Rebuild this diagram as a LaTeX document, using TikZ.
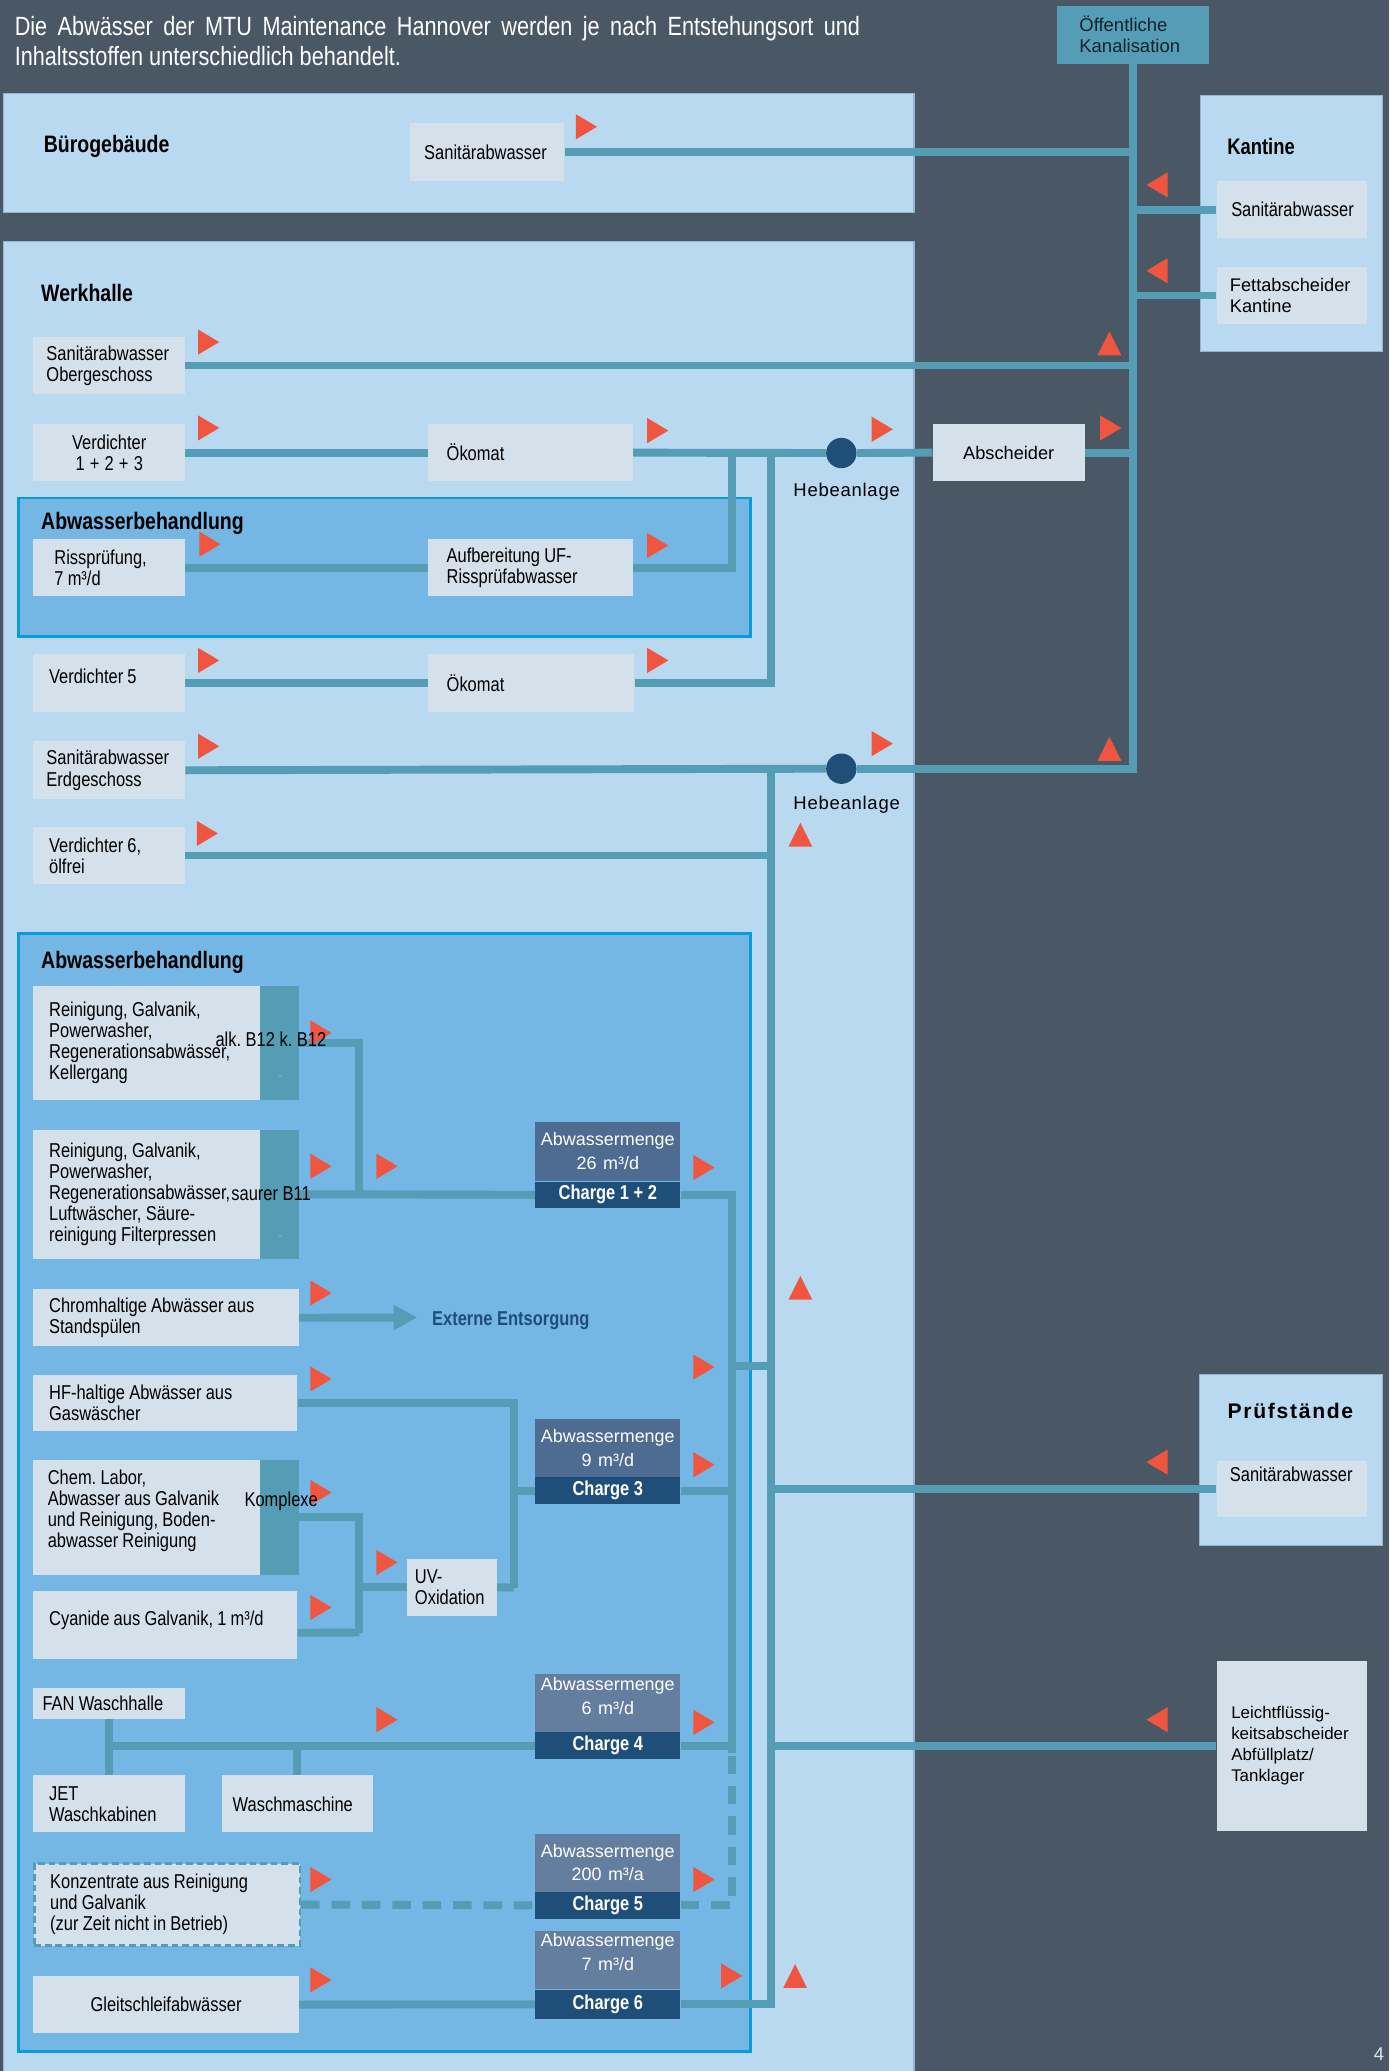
\documentclass[tikz,border=0pt]{standalone}
\usepackage{fontspec}
\setmainfont{Liberation Sans}
\newfontfamily\narrowfont[FakeStretch=0.82]{Liberation Sans}
\usepackage{tikz}
\usetikzlibrary{arrows.meta,positioning}
\definecolor{bgc}{HTML}{4A5866}
\definecolor{panelc}{HTML}{B9D9F1}
\definecolor{panelline}{HTML}{93B5CF}
\definecolor{treatc}{HTML}{74B6E4}
\definecolor{treatline}{HTML}{0A9BDB}
\definecolor{boxc}{HTML}{D4E1EA}
\definecolor{pipec}{HTML}{549DB5}
\definecolor{redc}{HTML}{F0553F}
\definecolor{navy}{HTML}{1F4E79}
\definecolor{mengeA}{HTML}{4E6B91}
\definecolor{mengeB}{HTML}{647E9F}
\definecolor{kanalc}{HTML}{559DB6}
\definecolor{kanaltext}{HTML}{16222C}
\definecolor{pagec}{HTML}{DCE3EA}
\newcommand{\bodyfont}{\narrowfont\fontsize{15.2}{16}\selectfont\frenchspacing}
\newcommand{\headfont}{\narrowfont\bfseries\fontsize{18}{20}\selectfont}
\newcommand{\titlefont}{\narrowfont\fontsize{20}{23}\selectfont}
\newcommand{\plainfont}{\fontsize{13.8}{16}\selectfont}
\newcommand{\mengefont}{\fontsize{13.6}{18}\selectfont}
\newcommand{\chargefont}{\narrowfont\bfseries\fontsize{15.2}{16}\selectfont}
\newcommand{\hebefont}{\addfontfeature{LetterSpace=4}\fontsize{14}{16}\selectfont}
\newcommand{\pruefont}{\bfseries\addfontfeature{LetterSpace=8}\fontsize{16}{18}\selectfont}
\newcommand{\trR}[2]{\fill[redc] (#1,#2) -- ++(-16,-9.5) -- ++(0,19) -- cycle;}
\newcommand{\trL}[2]{\fill[redc] (#1,#2) -- ++(16,-9.5) -- ++(0,19) -- cycle;}
\newcommand{\trU}[2]{\fill[redc] (#1,#2) -- ++(-9,18) -- ++(18,0) -- cycle;}
\hyphenpenalty=10000

\begin{document}
\begin{tikzpicture}[x=1pt,y=-1pt,
  panel/.style={fill=panelc, draw=panelline, line width=0.8pt},
  treat/.style={fill=treatc, draw=treatline, line width=2pt},
  box/.style={fill=boxc, anchor=north west, inner ysep=0pt, align=left, font=\bodyfont,
    execute at begin node={\spaceskip=3.2pt plus 1pt minus 0.5pt\relax}},
  strip/.style={path picture={\fill[pipec] ([xshift=-29pt]path picture bounding box.north east) rectangle (path picture bounding box.south east);}},
  menge/.style={anchor=north west, inner sep=0pt, text width=110pt, align=center, text=white, font=\mengefont,
    execute at begin node={\spaceskip=3.8pt plus 1pt minus 0.5pt\relax}},
  charge/.style={fill=navy, inner sep=0pt, minimum width=110pt, text=white, font=\chargefont},
  pipe/.style={draw=pipec, line width=6pt},
  dashpipe/.style={pipe, dash pattern=on 14pt off 9pt},
  dot/.style={circle, fill=navy, minimum size=23pt, inner sep=0pt},
  head/.style={anchor=west, inner sep=0pt, font=\headfont},
  note/.style={anchor=west, inner sep=0pt, font=\bodyfont}]
\useasboundingbox (0,0) rectangle (1052,1568);
\fill[bgc] (0,0) rectangle (1052,1568);

\filldraw[panel] (3,71) rectangle (692,161);
\filldraw[panel] (909,72) rectangle (1047,266);
\filldraw[panel] (3,183) rectangle (692,1572);
\filldraw[panel] (908,1041) rectangle (1047,1170);
\filldraw[treat] (14,377) rectangle (568,482);
\filldraw[treat] (14,707) rectangle (568,1553);

\node[anchor=north west, inner sep=0pt, text width=640pt, align=justify, text=white, font=\titlefont] (title) at (11,12)
  {Die Abwässer der MTU Maintenance Hannover werden je nach Entstehungsort und\linebreak Inhaltsstoffen unterschiedlich behandelt.};
\node[box, fill=kanalc, inner xsep=17pt, text width=81pt, minimum height=44pt, font=\fontsize{14}{16}\selectfont, text=kanaltext] (kanal) at (800,4) {Öffentliche\\Kanalisation};

\node[head] (lbuero) at (33,111) {Bürogebäude};
\node[head, font=\narrowfont\bfseries\fontsize{17}{20}\selectfont] (lkantine) at (929,111) {Kantine};
\node[head] (lwerk) at (31,222) {Werkhalle};
\node[head] (lab1) at (31,396) {Abwasserbehandlung};
\node[head] (lab2) at (31,729) {Abwasserbehandlung};
\node[font=\pruefont] (lpruef) at (977,1068) {Prüfstände};

\node[box, inner xsep=11pt, text width=95pt, minimum height=44pt] (bsan) at (310,93) {Sanitärabwasser};
\node[box, inner xsep=11pt, text width=92pt, minimum height=43pt] (ksan) at (921,137) {Sanitärabwasser};
\node[box, inner xsep=10pt, text width=94pt, minimum height=43pt, font=\plainfont] (kfett) at (921,202) {Fettabscheider\\Kantine};
\node[box, inner xsep=10pt, text width=95pt, minimum height=43pt] (og) at (25,255) {Sanitärabwasser\\Obergeschoss};
\node[box, inner xsep=10pt, text width=95pt, minimum height=43pt, align=center] (v123) at (25,321) {Verdichter\\1 + 2 + 3};
\node[box, inner xsep=14pt, text width=127pt, minimum height=43pt] (oek1) at (324,321) {Ökomat};
\node[dot] (hb1) at (637,343) {};
\node[font=\hebefont] (hb1lab) at (641,372) {Hebeanlage};
\node[box, inner xsep=10pt, text width=95pt, minimum height=43pt, align=center, font=\fontsize{13.8}{16}\selectfont] (absch) at (706,321) {Abscheider};
\node[box, inner xsep=16pt, text width=83pt, minimum height=43pt] (riss) at (25,408) {Rissprüfung,\\7 m³/d};
\node[box, inner xsep=14pt, text width=127pt, minimum height=43pt] (aufb) at (324,408) {Aufbereitung UF-\\Rissprüfabwasser};
\node[box, inner xsep=12pt, text width=91pt, minimum height=44pt] (v5) at (25,495) {Verdichter 5\\[-6pt]~};
\node[box, inner xsep=14pt, text width=128pt, minimum height=44pt] (oek2) at (324,495) {Ökomat};
\node[box, inner xsep=10pt, text width=95pt, minimum height=44pt] (eg) at (25,561) {Sanitärabwasser\\Erdgeschoss};
\node[dot] (hb2) at (637,582) {};
\node[font=\hebefont] (hb2lab) at (641,609) {Hebeanlage};
\node[box, inner xsep=12pt, text width=91pt, minimum height=43pt] (v6) at (25,626) {Verdichter 6,\\ölfrei};

\node[box, strip, inner xsep=12pt, text width=177pt, minimum height=87pt] (r1) at (25,746) {Reinigung, Galvanik,\\Powerwasher,\\Regenerationsabwässer,\\Kellergang};
\node[box, strip, inner xsep=12pt, text width=177pt, minimum height=98pt] (r2) at (25,855) {Reinigung, Galvanik,\\Powerwasher,\\Regenerationsabwässer,\\Luftwäscher, Säure-\\reinigung Filterpressen};
\node[menge, fill=mengeA, minimum height=45pt] (m12) at (405,849) {Abwassermenge\\26 m³/d};
\node[charge, minimum height=20pt, below=0pt of m12] (c12) {Charge 1 + 2};
\node[box, inner xsep=12pt, text width=177pt, minimum height=43pt] (chrom) at (25,976) {Chromhaltige Abwässer aus\\Standspülen};
\node[note, font=\chargefont, text=navy] (ext) at (327,1000) {Externe Entsorgung};
\coordinate (exttip) at (316,997.5);
\node[box, inner xsep=12pt, text width=176pt, minimum height=42pt] (hf) at (25,1041) {HF-haltige Abwässer aus\\Gaswäscher};
\node[menge, fill=mengeA, minimum height=44pt] (m3) at (405,1074) {Abwassermenge\\9 m³/d};
\node[charge, minimum height=20pt, below=0pt of m3] (c3) {Charge 3};
\node[box, strip, inner xsep=11pt, text width=179pt, minimum height=87pt] (chem) at (25,1105) {Chem. Labor,\\Abwasser aus Galvanik\\und Reinigung, Boden-\\abwasser Reinigung\\[-3pt]~};
\node[box, inner xsep=6pt, text width=56pt, minimum height=43pt] (uv) at (308,1180) {UV-\\Oxidation};
\node[box, inner xsep=12pt, text width=176pt, minimum height=52pt] (cyan) at (25,1204) {Cyanide aus Galvanik, 1 m³/d\\[-6pt]~};
\node[box, inner xsep=7pt, text width=101pt, minimum height=23pt] (fan) at (25,1278) {FAN Waschhalle};
\node[box, inner xsep=12pt, text width=91pt, minimum height=43pt] (jet) at (25,1344) {JET\\Waschkabinen};
\node[box, inner xsep=8pt, text width=98pt, minimum height=43pt] (wasch) at (168,1344) {Waschmaschine};
\node[menge, fill=mengeB, minimum height=44pt] (m4) at (405,1267) {Abwassermenge\\6 m³/d\\[-8pt]~};
\node[charge, minimum height=20pt, below=0pt of m4] (c4) {Charge 4};
\node[box, draw=pipec, line width=2pt, dash pattern=on 5pt off 3pt, inner xsep=12pt, text width=177pt, minimum height=62pt] (konz) at (25,1410) {Konzentrate aus Reinigung\\und Galvanik\\(zur Zeit nicht in Betrieb)};
\node[menge, fill=mengeB, minimum height=44pt] (m5) at (405,1388) {Abwassermenge\\200 m³/a};
\node[charge, minimum height=20pt, below=0pt of m5] (c5) {Charge 5};
\node[menge, fill=mengeB, minimum height=44pt] (m6) at (405,1462) {Abwassermenge\\7 m³/d\\[-5pt]~};
\node[charge, minimum height=22pt, below=0pt of m6] (c6) {Charge 6};
\node[box, inner xsep=12pt, text width=177pt, minimum height=43pt, align=center] (gleit) at (25,1496) {Gleitschleifabwässer};

\node[box, inner xsep=10pt, text width=94pt, minimum height=42pt] (psan) at (921,1106) {Sanitärabwasser\\[6pt]~};
\node[box, inner xsep=11pt, text width=92pt, minimum height=129pt, font=\fontsize{12.8}{16}\selectfont] (leicht) at (921,1257) {Leichtflüssig-\\keitsabscheider\\Abfüllplatz/\\Tanklager};

\coordinate (j1) at (554,343);
\coordinate (j2) at (584,343);
\coordinate (j3) at (584,582);
\coordinate (j4) at (272,904);
\coordinate (j5) at (554,1327);
\coordinate (j6) at (554,1034);
\coordinate (j7) at (389,1202);
\coordinate (j8) at (272,1236);

\draw[pipe] (bsan.east) -- (bsan.east -| kanal.south);
\draw[pipe] (ksan.west) -- (ksan.west -| kanal.south);
\draw[pipe] (kfett.west) -- (kfett.west -| kanal.south);
\draw[pipe] (og.east) -- (og.east -| kanal.south);
\draw[pipe] (v123.east) -- (oek1.west);
\draw[pipe] (oek1.east) -- (hb1.west);
\draw[pipe] (hb1.east) -- (absch.west);
\draw[pipe] (absch.east) -- (absch.east -| kanal.south);
\draw[pipe] (riss.east) -- (aufb.west);
\draw[pipe] (aufb.east) -| (j1);
\draw[pipe] (v5.east) -- (oek2.west);
\draw[pipe] (oek2.east) -| (j2);
\draw[pipe] (eg.east) -- (hb2.west);
\draw[pipe] (hb2.east) -| (kanal.south);
\draw[pipe] (v6.east) -- (v6.east -| j3);
\draw[pipe] (c6.east) -| (j3);
\draw[pipe] (psan.west) -- (psan.west -| j3);
\draw[pipe] (leicht.west) -- (leicht.west -| j3);

\draw[pipe] (r1.east) -| (j4);
\draw[pipe] (r2.east) -- (c12.west);
\draw[pipe] (c12.east) -| (j5);
\draw[pipe] (c3.east) -- (c3.east -| j5);
\draw[pipe] (c4.east) -- (c4.east -| j5);
\draw[pipe] (j6) -- (j6 -| j3);
\draw[pipe, -{Triangle[length=18pt,width=18pt]}] (chrom.east) -- (exttip);
\draw[pipe] (hf.east) -| (j7);
\draw[pipe] (uv.east) -- (j7);
\draw[pipe] (c3.west -| j7) -- (c3.west);
\draw[pipe] (chem.east) -| (j8);
\draw[pipe] ([yshift=-6pt]cyan.east) -- (j8);
\draw[pipe] (j8 |- uv.west) -- (uv.west);
\draw[pipe] (fan.south) -- (jet.north);
\draw[pipe] (fan.south |- c4.west) -- (c4.west);
\draw[pipe] (wasch.north) -- (wasch.north |- c4.west);
\draw[dashpipe] (konz.east) -- (c5.west);
\draw[dashpipe] (c5.east) -| (j5);
\draw[pipe] (gleit.east) -- (c6.west);

\trR{452}{96}
\trR{166}{259}
\trR{166}{324}
\trR{506}{326}
\trR{676}{325}
\trR{849}{324}
\trR{167}{412}
\trR{506}{413}
\trR{166}{500}
\trR{506}{500}
\trR{166}{565}
\trR{676}{563}
\trR{165}{631}
\trR{251}{782}
\trR{251}{883}
\trR{301}{883}
\trR{541}{884}
\trR{251}{979}
\trR{541}{1035}
\trR{251}{1044}
\trR{541}{1109}
\trR{251}{1130}
\trR{301}{1183}
\trR{251}{1217}
\trR{301}{1302}
\trR{541}{1304}
\trR{251}{1423}
\trR{541}{1423}
\trR{251}{1499}
\trR{562}{1496}
\trL{868}{140}
\trL{868}{205}
\trL{868}{1107}
\trL{868}{1302}
\trU{840}{251}
\trU{840}{558}
\trU{606}{623}
\trU{606}{966}
\trU{602}{1487}

\node[note] (alk) at (163,787) {alk. B12 k. B12};
\node[note] (sauer) at (175,904) {saurer B11};
\node[note] (kompl) at (185,1137) {Komplexe};
\node[text=white, inner sep=0pt, font=\fontsize{5}{5}\selectfont] (dots1) at (212,815) {..};
\node[text=white, inner sep=0pt, font=\fontsize{5}{5}\selectfont] (dots2) at (212,937) {..};
\node[text=pagec, font=\fontsize{14}{16}\selectfont] (page) at (1044,1555) {4};
\end{tikzpicture}
\end{document}
